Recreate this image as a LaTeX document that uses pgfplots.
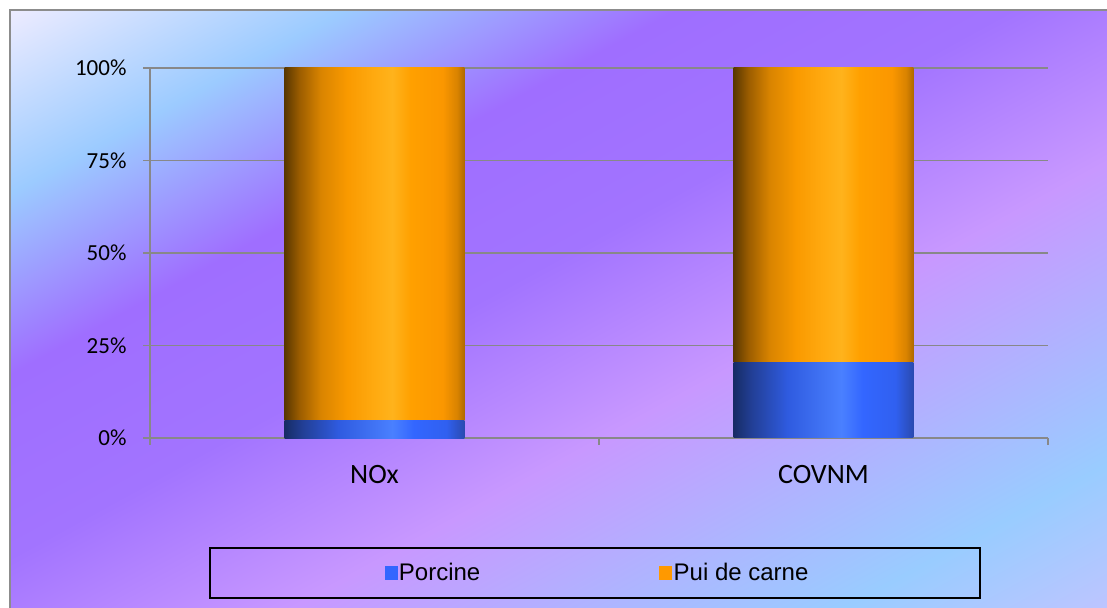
\documentclass[border=0pt]{standalone}
\usepackage{pgfplots}
\pgfplotsset{compat=1.18}
\usepackage{fontspec}
\setmainfont{Carlito}
\newfontfamily\legfont{Liberation Sans}

\definecolor{gridgray}{HTML}{888888}
\definecolor{framegray}{HTML}{8C8C8C}
\definecolor{legblue}{HTML}{3366FF}
\definecolor{legorange}{HTML}{FF9900}
% background stops
\definecolor{bg0}{HTML}{ECEBFF}
\definecolor{bg1}{HTML}{9CCBFF}
\definecolor{bg2}{HTML}{9F6EFF}
\definecolor{bg3}{HTML}{A274FF}
\definecolor{bg4}{HTML}{C898FF}
\definecolor{bg5}{HTML}{99CCFF}
\definecolor{bg6}{HTML}{C0C4FF}
% orange bar stops
\definecolor{o0}{HTML}{5A3800}
\definecolor{o1}{HTML}{9A5C00}
\definecolor{o2}{HTML}{D98400}
\definecolor{o3}{HTML}{FA9A00}
\definecolor{o4}{HTML}{FFAA10}
\definecolor{o5}{HTML}{FFB31C}
\definecolor{o6}{HTML}{FFA000}
\definecolor{o7}{HTML}{FB9700}
\definecolor{o8}{HTML}{D98300}
\definecolor{o9}{HTML}{B06A00}
% blue bar stops
\definecolor{b0}{HTML}{172C66}
\definecolor{b1}{HTML}{223F96}
\definecolor{b2}{HTML}{2F5BE0}
\definecolor{b3}{HTML}{4A80FF}
\definecolor{b4}{HTML}{3366FF}
\definecolor{b5}{HTML}{3060F0}
\definecolor{b6}{HTML}{2A4AB0}

\pgfdeclarehorizontalshading{bgshade}{100bp}{color(0bp)=(bg0); color(14.6bp)=(bg0);
  color(25.2bp)=(bg1); color(35.8bp)=(bg2); color(46.5bp)=(bg3); color(58.5bp)=(bg4);
  color(76.2bp)=(bg5); color(85.4bp)=(bg6); color(100bp)=(bg6)}
\pgfdeclarehorizontalshading{orangebar}{100bp}{color(0bp)=(o0); color(25bp)=(o0);
  color(29bp)=(o1); color(35bp)=(o2); color(42.5bp)=(o3); color(50bp)=(o4);
  color(55bp)=(o5); color(60bp)=(o6); color(69bp)=(o7); color(73bp)=(o8);
  color(75bp)=(o9); color(100bp)=(o9)}
\pgfdeclarehorizontalshading{bluebar}{100bp}{color(0bp)=(b0); color(25bp)=(b0);
  color(30bp)=(b1); color(40bp)=(b2); color(55bp)=(b3); color(61bp)=(b4);
  color(70bp)=(b5); color(75bp)=(b6); color(100bp)=(b6)}

\pgfplotsset{
  chartframe/.style={
    at={(150pt,169pt)}, anchor=south west,
    scale only axis, width=898pt, height=370pt,
    ybar stacked, bar width=0.4,
    xmin=0, xmax=2, ymin=0, ymax=100,
  },
  porcbar/.style={shade, shading=bluebar, draw=none, forget plot},
  puibar/.style={shade, shading=orangebar, draw=none, forget plot},
}

\begin{document}
\begin{tikzpicture}
\useasboundingbox (0pt,0pt) rectangle (1107pt,607pt);
\begin{scope}
  \clip (0pt,0pt) rectangle (1107pt,607pt);
  \fill[white] (0pt,0pt) rectangle (1107pt,607pt);
  \begin{scope}[transform canvas={xscale=1.8287}]
    \shade[shading=bgshade, shading angle=-45] (5.47pt,-10pt) rectangle (612.5pt,597pt);
  \end{scope}
  \draw[line width=2pt, framegray] (10pt,-10pt) -- (10pt,597pt) -- (1120pt,597pt);
\end{scope}
\draw[line width=1.3pt, black] (210pt,9pt) rectangle (980pt,59pt);

% axis with grid, ticks, legend and the NOx bar
\begin{axis}[
    chartframe,
    axis x line*=bottom, axis y line*=left,
    axis line style={draw=gridgray, line width=1.6pt, -},
    ytick={0,25,50,75,100},
    yticklabel={\pgfmathprintnumber{\tick}\%},
    xtick={0,1,2}, xticklabels={},
    extra x ticks={0.5,1.5}, extra x tick labels={NOx,COVNM},
    extra x tick style={major tick length=0pt},
    tick align=outside, major tick length=7pt,
    tick style={draw=gridgray, line width=1.6pt},
    ymajorgrids, grid style={draw=gridgray, line width=1.6pt},
    y tick label style={font=\fontsize{23}{27}\selectfont, xshift=-13pt},
    x tick label style={font=\fontsize{28}{33}\selectfont, yshift=-24pt},
    /pgf/number format/assume math mode=true,
    legend columns=2,
    legend style={at={(0.4983,-0.365)}, anchor=center, draw=none, fill=none,
      font=\legfont\fontsize{24}{28}\selectfont,
      /tikz/every even column/.append style={column sep=177pt}},
]
\addplot[porcbar] coordinates {(0.5,4.7)};
\addplot[puibar] coordinates {(0.5,95.3)};
\addlegendimage{legend image code/.code={\fill[legblue] (0pt,-6pt) rectangle (12pt,7pt);}}
\addlegendentry{Porcine}
\addlegendimage{legend image code/.code={\fill[legorange] (0pt,-6pt) rectangle (12pt,7pt);}}
\addlegendentry{Pui de carne}
\end{axis}

% same frame, only the COVNM bar (own shading box per bar)
\begin{axis}[chartframe, hide axis]
\addplot[porcbar] coordinates {(1.5,20.3)};
\addplot[puibar] coordinates {(1.5,79.7)};
\end{axis}
\end{tikzpicture}
\end{document}
